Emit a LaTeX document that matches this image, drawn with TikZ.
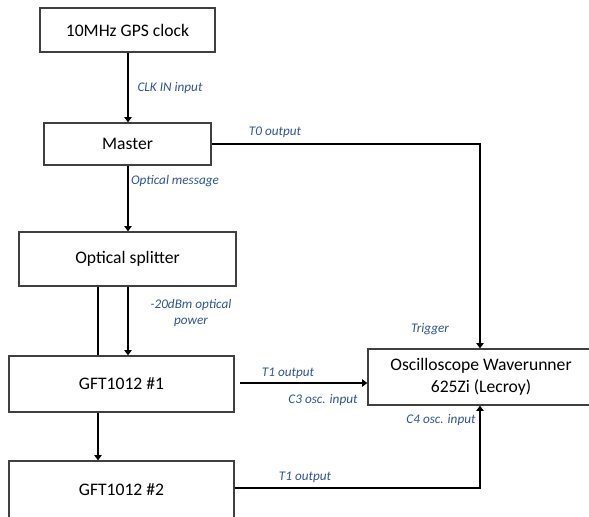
\documentclass[tikz,border=0pt]{standalone}
\usepackage{fontspec}
\setmainfont{Carlito}
\usetikzlibrary{arrows.meta}
\definecolor{lblblue}{RGB}{47,84,150}
\definecolor{boxgray}{RGB}{64,64,64}
\tikzset{
  box/.style={draw=boxgray, line width=0.65pt, inner sep=0pt, align=center,
    font=\fontsize{8.8}{11}\selectfont},
  lbl/.style={text=lblblue, font=\fontsize{6.6}{8}\selectfont\itshape, inner sep=0pt, align=center},
  conn/.style={line width=0.65pt, -{Triangle[width=3.6pt,length=2.6pt]}},
  plain/.style={line width=0.65pt}
}
\begin{document}
\begin{tikzpicture}[x=0.5pt,y=-0.5pt]
\useasboundingbox (0,0) rectangle (589,516);
\clip (0,0) rectangle (589,516);
\node[box, minimum width=87.5pt, minimum height=22pt] (gps) at (127.5,30) {10MHz GPS clock};
\node[box, minimum width=83.5pt, minimum height=21pt] (master) at (127.5,144) {Master};
\node[box, minimum width=108.5pt, minimum height=27pt] (split) at (127.5,259) {Optical splitter};
\node[box, minimum width=112.5pt, minimum height=28pt] (gft1) at (121.5,384) {GFT1012 \#1};
\node[box, minimum width=112.5pt, minimum height=29pt] (gft2) at (121.5,490) {GFT1012 \#2};
\node[box, minimum width=113pt, minimum height=28pt] (osc) at (481,377) {Oscilloscope Waverunner\\625Zi (Lecroy)};

\coordinate (t1start) at (240,383);

\draw[conn] (gps.south -| 128,0) -- (master.north -| 128,0);
\draw[conn] (master.south -| 128,0) -- (split.north -| 128,0);
\draw[conn] (split.south -| 128,0) -- (gft1.north -| 128,0);
\draw[plain] (split.south -| 98,0) -- (gft1.north -| 98,0);
\draw[conn] (gft1.south -| 98,0) -- (gft2.north -| 98,0);
\draw[conn] (master.east) -- (480,144) -- (osc.north -| 480,0);
\draw[conn] (t1start) -- (osc.west |- t1start);
\draw[conn] (gft2.east |- 0,488) -- (480,488) -- (osc.south -| 480,0);

\node[lbl] (l1) at (170,88) {CLK IN input};
\node[lbl] (l2) at (275,132) {T0 output};
\node[lbl] (l3) at (175,181) {Optical message};
\node[lbl] (l4) at (191,313) {-20dBm optical\\power};
\node[lbl] (l5) at (288,373) {T1 output};
\node[lbl] (l6) at (323,400) {C3 osc. input};
\node[lbl] (l7) at (430,329) {Trigger};
\node[lbl] (l8) at (441,420) {C4 osc. input};
\node[lbl] (l9) at (305,477) {T1 output};
\end{tikzpicture}
\end{document}
